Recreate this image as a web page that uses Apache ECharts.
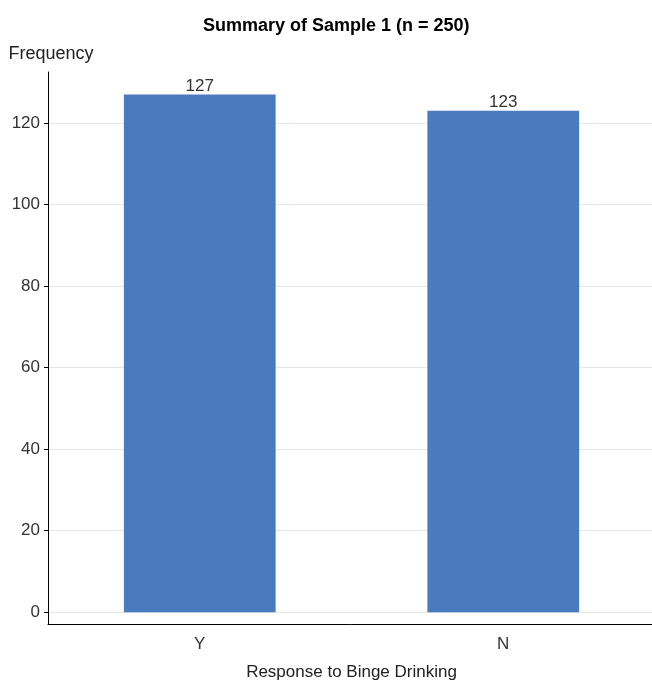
<!DOCTYPE html>
<html>
<head>
<meta charset="utf-8">
<script src="https://cdn.jsdelivr.net/npm/echarts@6/dist/echarts.min.js"></script>
<style>html,body{margin:0;padding:0;background:#fff}#c{width:652px;height:681px}</style>
</head>
<body>
<div id="c"></div>
<script>
const categories = ['Y', 'N'];
const frequencies = [127, 123];
const yTicks = [0, 20, 40, 60, 80, 100, 120];

const chart = echarts.init(document.getElementById('c'));
chart.setOption({
  animation: false,
  title: {
    text: 'Summary of Sample 1 (n = 250)',
    left: 198,
    top: 12,
    textStyle: { fontFamily: 'Liberation Sans', fontWeight: 'bold', fontSize: 18, color: '#000' }
  },
  grid: { left: 48, top: 72, height: 552, width: 607, containLabel: false, outerBoundsMode: 'none' },
  xAxis: {
    type: 'category',
    data: categories,
    name: 'Response to Binge Drinking',
    nameLocation: 'middle',
    nameGap: 40,
    nameTextStyle: { fontFamily: 'Liberation Sans', fontSize: 17, color: '#222' },
    axisLine: { onZero: false, lineStyle: { color: '#000', width: 1 } },
    axisTick: { alignWithLabel: true, length: 4, lineStyle: { color: '#000' } },
    axisLabel: { fontFamily: 'Liberation Sans', fontSize: 17, color: '#333', margin: 12 }
  },
  yAxis: {
    type: 'value',
    min: -2.9,
    max: 132.5,
    name: 'Frequency',
    nameLocation: 'end',
    nameGap: 9,
    nameTextStyle: { fontFamily: 'Liberation Sans', fontSize: 18, color: '#222', padding: [0, 0, 0, 6] },
    axisLine: { show: true, lineStyle: { color: '#000', width: 1 } },
    axisTick: { show: true, length: 4, customValues: yTicks, lineStyle: { color: '#000' } },
    axisLabel: { fontFamily: 'Liberation Sans', fontSize: 17, color: '#333', margin: 8, customValues: yTicks },
    splitLine: { show: true, lineStyle: { color: '#e6e6e6' } }
  },
  series: [{
    type: 'bar',
    data: frequencies,
    barWidth: '50%',
    itemStyle: { color: '#4a7bbf' },
    label: { show: true, position: 'top', distance: 0, fontFamily: 'Liberation Sans', fontSize: 17, color: '#333' }
  }]
});
</script>
</body>
</html>
